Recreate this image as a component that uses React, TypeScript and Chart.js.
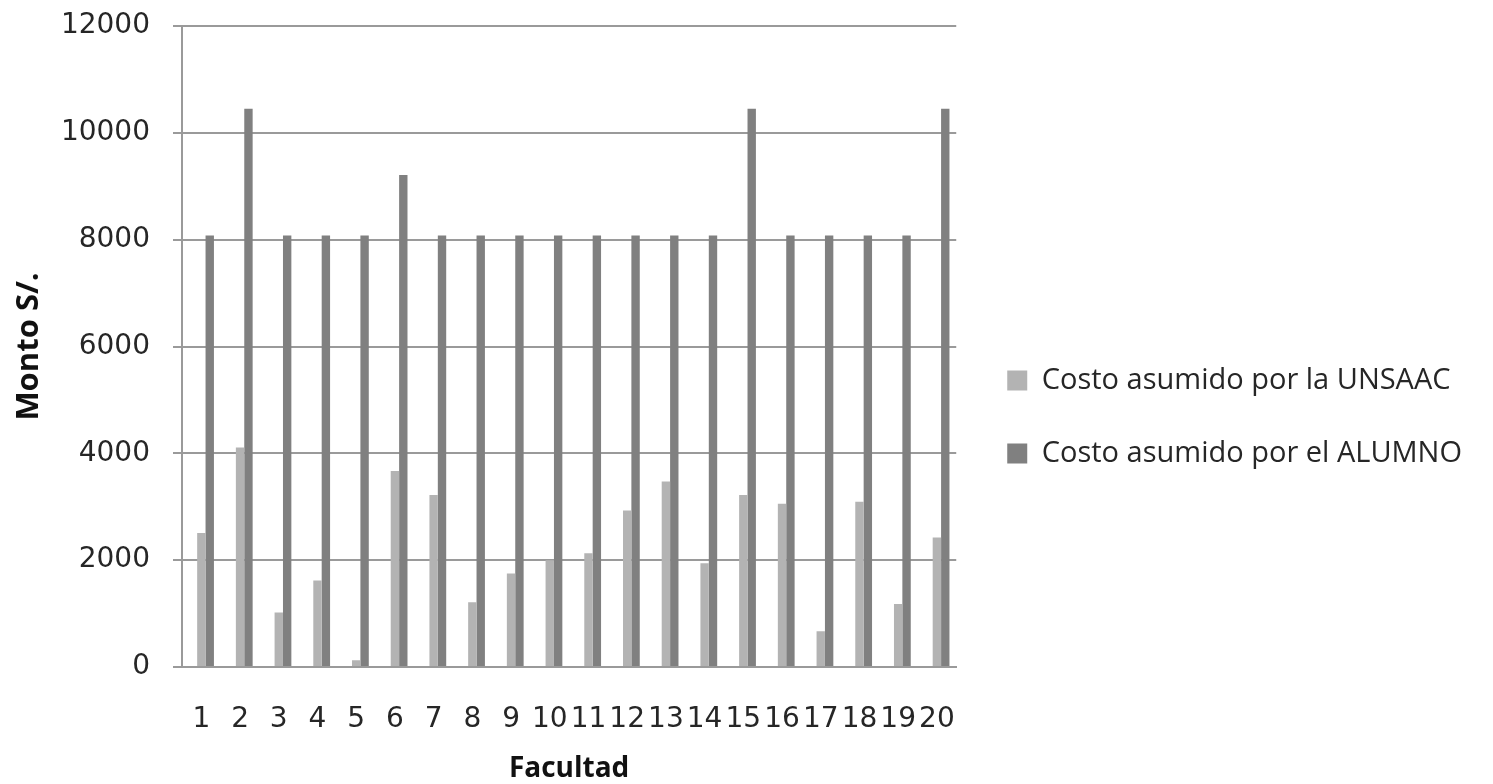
import React, { useEffect, useRef } from "react";
import { Chart, registerables } from "chart.js";

Chart.register(...registerables);

const categories: string[] = ["1","2","3","4","5","6","7","8","9","10","11","12","13","14","15","16","17","18","19","20"];
const costoUnsaac: number[] = [2510, 4110, 1020, 1620, 125, 3670, 3220, 1210, 1750, 2000, 2130, 2930, 3475, 1940, 3220, 3055, 670, 3095, 1180, 2425];
const costoAlumno: number[] = [8080, 10450, 8080, 8080, 8080, 9210, 8080, 8080, 8080, 8080, 8080, 8080, 8080, 8080, 10450, 8080, 8080, 8080, 8080, 10450];
const spacer: (number | null)[] = [null,null,null,null,null,null,null,null,null,null,null,null,null,null,null,null,null,null,null,null];
const seriesLabels: string[] = ["Costo asumido por la UNSAAC", "Costo asumido por el ALUMNO"];
const yTitle = "Monto S/.";
const xTitle = "Facultad";

const legendShift = {
  id: "legendShift",
  afterLayout(chart: any) {
    const lg = chart.legend;
    if (lg) { lg.left += 7; lg.right += 7; }
  },
};

export default function App() {
  const ref = useRef<HTMLCanvasElement | null>(null);
  useEffect(() => {
    if (!ref.current) return;
    const chart = new Chart(ref.current, {
      type: "bar",
      data: {
        labels: categories,
        datasets: [
          { label: "", data: spacer, backgroundColor: "rgba(0,0,0,0)", categoryPercentage: 0.65, barPercentage: 1 },
          { label: seriesLabels[0], data: costoUnsaac, backgroundColor: "#b3b3b3", categoryPercentage: 0.65, barPercentage: 1 },
          { label: seriesLabels[1], data: costoAlumno, backgroundColor: "#808080", categoryPercentage: 0.65, barPercentage: 1 },
        ],
      },
      plugins: [legendShift],
      options: {
        animation: false,
        responsive: false,
        maintainAspectRatio: false,
        layout: { padding: { top: 26, left: 0, right: 28, bottom: 0 } },
        plugins: {
          tooltip: { enabled: false },
          legend: {
            position: "right",
            maxWidth: 540,
            title: { display: true, text: "", font: { size: 10 }, padding: 6 },
            labels: {
              filter: (item: any) => item.text !== "",
              font: { family: "Open Sans", size: 29 },
              color: "#262626",
              boxWidth: 20,
              boxHeight: 20,
              padding: 44,
            },
          },
        },
        scales: {
          x: {
            afterFit: (s: any) => { s.height = 117; s.paddingLeft = 0; s.paddingRight = 0; },
            grid: { display: false, drawTicks: false },
            border: { display: true, color: "#9a9a9a", width: 2 },
            ticks: {
              autoSkip: false,
              maxRotation: 0,
              minRotation: 0,
              padding: 36,
              color: "#262626",
              font: { family: "DejaVu Sans", size: 28 },
            },
            title: {
              display: true,
              text: xTitle,
              color: "#111111",
              font: { family: "Open Sans", size: 28, weight: "bold", lineHeight: 1.05 },
              padding: { top: 0, bottom: 0 },
            },
          },
          y: {
            min: 0,
            max: 12000,
            afterFit: (s: any) => { s.width = 182; s.paddingTop = 0; s.paddingBottom = 0; },
            grid: { color: "#9a9a9a", lineWidth: 2, tickLength: 9, drawTicks: true },
            border: { display: true, color: "#9a9a9a", width: 2 },
            ticks: {
              stepSize: 2000,
              padding: 23,
              color: "#262626",
              font: { family: "DejaVu Sans", size: 28 },
              callback: (v: any) => String(v),
            },
            title: {
              display: true,
              text: yTitle,
              color: "#111111",
              font: { family: "Open Sans", size: 31, weight: "bold", lineHeight: 1.2 },
              padding: { top: 11, bottom: 0 },
            },
          },
        },
      },
    });
    return () => chart.destroy();
  }, []);
  return (
    <div style={{ position: "fixed", left: 0, top: 0, width: 1493, height: 784, background: "#ffffff" }}>
      <canvas ref={ref} width={1493} height={784} style={{ width: 1493, height: 784, display: "block" }} />
    </div>
  );
}
